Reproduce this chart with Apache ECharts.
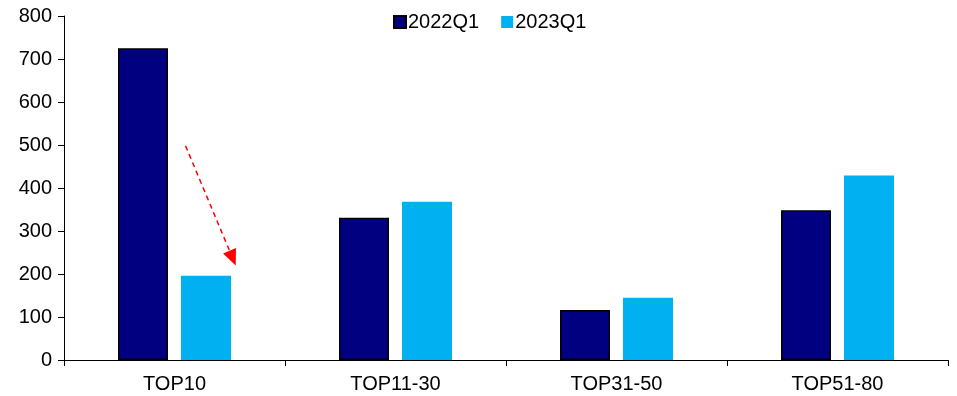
<!DOCTYPE html>
<html>
<head>
<meta charset="utf-8">
<script src="https://cdn.jsdelivr.net/npm/echarts@6/dist/echarts.min.js"></script>
<style>
  html, body { margin: 0; padding: 0; background: #fff; }
  #chart { width: 957px; height: 396px; }
</style>
</head>
<body>
<div id="chart"></div>
<script>
// Company groups and quarterly values
const categories = ['TOP10', 'TOP11-30', 'TOP31-50', 'TOP51-80'];
const seriesNames = ['2022Q1', '2023Q1'];
const values2022Q1 = [725, 331, 116, 348];
const values2023Q1 = [196, 368, 145, 429];
const yTicks = { min: 0, max: 800, interval: 100 };

// Dashed arrow showing the TOP10 decline, as [x (category units), y (value)]
const arrowFrom = [0.55, 498];
const arrowTo = [0.763, 237];

const FONT = 'Liberation Sans, Arial, sans-serif';
const chart = echarts.init(document.getElementById('chart'));

chart.setOption({
  animation: false,
  textStyle: { fontFamily: FONT },
  grid: { left: 64, right: 9, top: 16, bottom: 36, containLabel: false },
  legend: {
    top: 7,
    left: 388,
    itemWidth: 12,
    itemHeight: 12,
    itemGap: 22,
    icon: 'rect',
    textStyle: { fontSize: 20, color: '#000', fontFamily: FONT, padding: [0, 0, 0, -3] },
    data: seriesNames
  },
  xAxis: [
    {
      type: 'category',
      data: categories,
      axisLine: { lineStyle: { color: '#000', width: 1 } },
      axisTick: { show: true, length: 6, alignWithLabel: false, lineStyle: { color: '#000' } },
      axisLabel: { fontSize: 20, color: '#000', margin: 14, fontFamily: FONT }
    },
    {
      type: 'value',
      min: 0,
      max: 4,
      show: false
    }
  ],
  yAxis: {
    type: 'value',
    min: yTicks.min,
    max: yTicks.max,
    interval: yTicks.interval,
    splitLine: { show: false },
    axisLine: { show: true, lineStyle: { color: '#000', width: 1 } },
    axisTick: { show: true, length: 6, lineStyle: { color: '#000' } },
    axisLabel: { fontSize: 20, color: '#000', margin: 12, fontFamily: FONT }
  },
  series: [
    {
      name: seriesNames[0],
      type: 'bar',
      data: values2022Q1,
      barWidth: 50,
      barGap: '26%',
      itemStyle: { color: '#000080', borderColor: '#000', borderWidth: 1.5 }
    },
    {
      name: seriesNames[1],
      type: 'bar',
      data: values2023Q1,
      barWidth: 50,
      barGap: '26%',
      itemStyle: { color: '#00B0F0' }
    },
    {
      type: 'line',
      xAxisIndex: 1,
      data: [],
      silent: true,
      markLine: {
        silent: true,
        symbol: ['none', 'triangle'],
        symbolSize: [14, 16],
        label: { show: false },
        lineStyle: { color: '#FF0000', type: [5, 4], width: 1.5 },
        data: [[{ coord: arrowFrom }, { coord: arrowTo }]]
      }
    }
  ]
});
</script>
</body>
</html>
